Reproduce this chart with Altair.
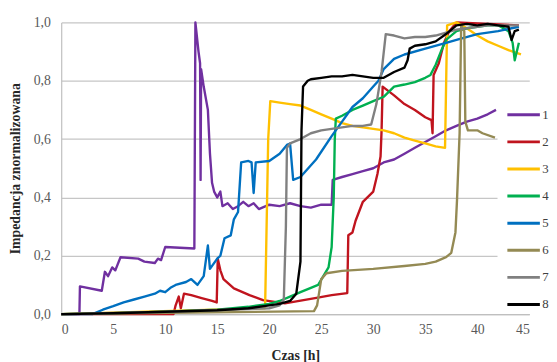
import altair as alt
import pandas as pd

series_names = ["1", "2", "3", "4", "5", "6", "7", "8"]
series_colors = ["#7030A0", "#C0141E", "#FFC000", "#00B050", "#0070C0", "#948A54", "#808080", "#000000"]

s1_x = [0, 1.75, 1.8, 3.9, 4.2, 4.5, 4.9, 5.2, 5.7, 7.4, 8.0, 9.0, 9.3, 9.6, 10.0, 12.8, 12.9, 13.2, 13.35, 13.4,
        13.45, 13.7, 14.1, 14.3, 14.5, 14.7, 15.0, 15.3, 15.5, 16.0, 16.5, 17.0, 17.5, 18.0, 18.5, 19.0, 20.0, 21.0,
        22.0, 23.0, 24.0, 25.0, 26.0, 26.1, 27.0, 28.0, 29.0, 30.0, 31.0, 32.0, 33.0, 34.0, 35.0, 36.0, 37.0, 38.0,
        39.0, 40.0, 41.0, 41.8]
s1_y = [0, 0, 0.095, 0.08, 0.145, 0.13, 0.16, 0.15, 0.195, 0.19, 0.18, 0.175, 0.19, 0.185, 0.23, 0.225, 1.0, 0.9,
        0.86, 0.46, 0.84, 0.78, 0.70, 0.55, 0.45, 0.42, 0.40, 0.42, 0.37, 0.38, 0.36, 0.37, 0.385, 0.37, 0.38, 0.36,
        0.375, 0.37, 0.38, 0.37, 0.365, 0.375, 0.375, 0.46, 0.47, 0.48, 0.49, 0.50, 0.52, 0.53, 0.55, 0.57, 0.59,
        0.61, 0.63, 0.645, 0.66, 0.67, 0.685, 0.70]

s2_x = [0, 10.8, 11.0, 11.3, 11.5, 11.8, 12.5, 13.5, 14.5, 14.95, 15.05, 15.3, 15.6, 16.6, 18.1, 19.4, 21.5, 24.4,
        26.0, 27.5, 27.6, 28.0, 28.3, 29.0, 30.0, 30.4, 30.7, 30.8, 30.9, 32.0, 33.0, 34.0, 35.0, 35.6, 35.7, 35.8,
        36.3, 36.8, 37.3, 38.0, 44.0]
s2_y = [0, 0, 0.03, 0.06, 0.02, 0.07, 0.065, 0.055, 0.045, 0.04, 0.19, 0.15, 0.12, 0.088, 0.065, 0.048, 0.037, 0.055,
        0.065, 0.072, 0.27, 0.28, 0.32, 0.385, 0.42, 0.48, 0.54, 0.63, 0.78, 0.75, 0.72, 0.70, 0.675, 0.665, 0.62,
        0.82, 0.86, 0.93, 0.97, 1.0, 0.99]

s3_x = [0, 19.6, 19.9, 20.1, 21, 22, 23, 24, 25, 26, 27, 28, 29, 30, 31, 32, 33, 34, 35, 36, 36.9, 37.1, 38.0, 39.0,
        40.0, 41.0, 42.0, 43.0, 44.2]
s3_y = [0, 0.02, 0.6, 0.73, 0.725, 0.72, 0.715, 0.70, 0.685, 0.67, 0.655, 0.645, 0.64, 0.635, 0.63, 0.62, 0.605,
        0.595, 0.585, 0.575, 0.57, 0.99, 1.0, 0.98, 0.955, 0.935, 0.92, 0.905, 0.89]

s4_x = [0, 5, 10, 15, 18, 20, 21, 22, 23, 24, 24.7, 25.2, 25.7, 26.0, 26.2, 26.3, 26.4, 27, 28, 29, 30, 31, 32, 33,
        34, 35, 35.5, 36, 36.5, 37, 38, 39, 40, 41, 42, 43, 43.4, 43.6, 44]
s4_y = [0, 0.003, 0.008, 0.015, 0.025, 0.035, 0.045, 0.06, 0.075, 0.09, 0.10, 0.13, 0.16, 0.23, 0.40, 0.60, 0.67,
        0.68, 0.70, 0.715, 0.73, 0.745, 0.78, 0.787, 0.795, 0.81, 0.82, 0.855, 0.90, 0.94, 0.97, 0.98, 0.985, 0.99,
        0.99, 0.97, 0.93, 0.87, 0.93]

s5_x = [0, 3.0, 4.0, 5.0, 6.0, 7.0, 8.0, 9.0, 9.5, 10.0, 10.5, 11.0, 12.0, 12.5, 13.1, 13.7, 14.1, 14.3, 15.0, 15.3,
        15.7, 16.3, 16.6, 17.0, 17.3, 18.0, 18.3, 18.5, 18.7, 20.0, 21.0, 21.7, 22.0, 22.3, 23.0, 24.5, 26.0, 27.0,
        28.0, 29.0, 30.0, 30.5, 31.0, 32.0, 33.0, 35.0, 37.0, 38.0, 40.0, 42.0, 44.0]
s5_y = [0, 0, 0.015, 0.027, 0.04, 0.05, 0.06, 0.07, 0.08, 0.075, 0.09, 0.10, 0.11, 0.12, 0.10, 0.13, 0.235, 0.155,
        0.19, 0.20, 0.26, 0.27, 0.325, 0.35, 0.52, 0.525, 0.52, 0.415, 0.52, 0.525, 0.55, 0.58, 0.585, 0.46, 0.47,
        0.53, 0.61, 0.66, 0.71, 0.74, 0.78, 0.80, 0.84, 0.875, 0.89, 0.91, 0.93, 0.94, 0.96, 0.97, 0.985]

s6_x = [0, 24.3, 24.6, 25.0, 25.5, 27.0, 30.0, 33.0, 35.0, 36.0, 37.0, 37.5, 37.9, 38.05, 38.3, 38.45, 38.75, 38.85,
        39.1, 40.0, 40.5, 41.7]
s6_y = [0, 0.01, 0.03, 0.12, 0.14, 0.148, 0.155, 0.165, 0.172, 0.18, 0.195, 0.21, 0.28, 0.39, 0.62, 0.99, 0.97,
        0.66, 0.63, 0.63, 0.62, 0.605]

s7_x = [0, 10, 20, 21.0, 21.4, 21.6, 21.7, 22.0, 23.0, 24.0, 25.0, 26.0, 27.0, 28.0, 29.0, 29.8, 30.3, 30.8, 31.2,
        32.0, 33.0, 34.0, 35.0, 36.0, 37.0, 38.0, 39.0, 40.0, 41.0, 42.0, 43.0, 44.0]
s7_y = [0, 0.008, 0.02, 0.03, 0.05, 0.30, 0.57, 0.585, 0.60, 0.62, 0.63, 0.635, 0.64, 0.645, 0.645, 0.65, 0.72, 0.83,
        0.96, 0.955, 0.945, 0.95, 0.95, 0.955, 0.965, 0.975, 0.98, 0.985, 0.99, 0.99, 0.99, 0.99]

s8_x = [0, 5, 10, 15, 18, 20, 21, 22, 22.6, 23.0, 23.1, 23.25, 23.7, 24, 25, 26, 27, 28, 29, 30, 31, 32, 33, 33.3,
        33.5, 34, 35, 36, 37, 38, 39, 40, 41, 42, 43, 43.3, 43.6, 44]
s8_y = [0, 0.003, 0.008, 0.013, 0.02, 0.03, 0.035, 0.045, 0.07, 0.18, 0.63, 0.78, 0.80, 0.805, 0.81, 0.815, 0.815,
        0.82, 0.815, 0.81, 0.81, 0.83, 0.845, 0.87, 0.91, 0.92, 0.925, 0.935, 0.96, 0.99, 0.995, 0.99, 0.995, 0.99,
        0.985, 0.94, 0.97, 0.975]

x_ticks = [0, 5, 10, 15, 20, 25, 30, 35, 40, 45]
y_ticks = [0.0, 0.2, 0.4, 0.6, 0.8, 1.0]

all_x = [s1_x, s2_x, s3_x, s4_x, s5_x, s6_x, s7_x, s8_x]
all_y = [s1_y, s2_y, s3_y, s4_y, s5_y, s6_y, s7_y, s8_y]

rows = []
for name, xs, ys in zip(series_names, all_x, all_y):
    assert len(xs) == len(ys), name
    for i, (xv, yv) in enumerate(zip(xs, ys)):
        rows.append({"seria": name, "czas": xv, "imp": yv, "i": i})
df = pd.DataFrame(rows)

serif = "Liberation Serif"

chart = alt.Chart(df).mark_line(strokeWidth=2.4, strokeJoin="round").encode(
    x=alt.X("czas:Q", scale=alt.Scale(domain=[0, 45], nice=False),
            axis=alt.Axis(title="Czas [h]", values=x_ticks, grid=False, ticks=False,
                          labelPadding=9, titleY=42, titleBaseline="middle")),
    y=alt.Y("imp:Q", scale=alt.Scale(domain=[0, 1], nice=False),
            axis=alt.Axis(title="Impedancja znormalizowana", values=y_ticks, ticks=False,
                          labelPadding=11,
                          labelExpr="replace(format(datum.value, '.1f'), '.', ',')",
                          titleX=-46, titleBaseline="middle")),
    color=alt.Color("seria:N", scale=alt.Scale(domain=series_names, range=series_colors),
                    legend=alt.Legend(title=None, orient="none", legendX=442.75, legendY=83.75,
                                      symbolType="M0,0L4,0", symbolSize=272, symbolStrokeWidth=3,
                                      labelOffset=25.5, rowPadding=10.5, padding=0,
                                      fillColor="white", labelFont=serif, labelFontSize=13,
                                      labelColor="#404040")),
    order=alt.Order("i:Q"),
).properties(
    width=475, height=296,
    autosize=alt.AutoSizeParams(type="none"),
    padding={"left": 54, "top": 12, "right": 20, "bottom": 46},
).configure_view(stroke=None).configure_axis(
    labelFont=serif, labelFontSize=14, labelColor="#595959",
    titleFont=serif, titleFontSize=14, titleFontWeight="bold", titleColor="#262626",
    domainColor="#bfbfbf", domainWidth=1.2, gridColor="#c6c6c6", gridWidth=1.2,
)

chart.save("out.html", embed_options={"renderer": "svg", "actions": False})
